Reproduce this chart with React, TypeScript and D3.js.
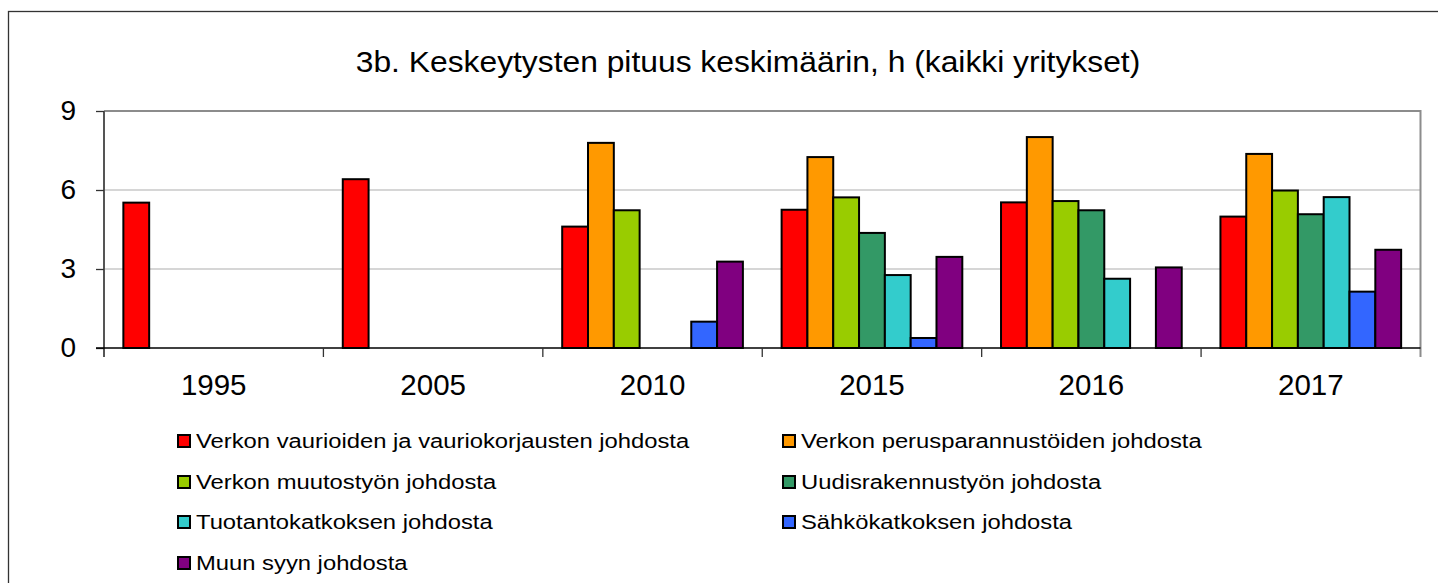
import React, { useEffect, useRef } from "react";
import * as d3 from "d3";

const years = ["1995", "2005", "2010", "2015", "2016", "2017"];
const seriesNames = [
  "Verkon vaurioiden ja vauriokorjausten johdosta",
  "Verkon perusparannustöiden johdosta",
  "Verkon muutostyön johdosta",
  "Uudisrakennustyön johdosta",
  "Tuotantokatkoksen johdosta",
  "Sähkökatkoksen johdosta",
  "Muun syyn johdosta",
];
const seriesColors = ["#FF0000", "#FF9900", "#99CC00", "#339966", "#33CCCC", "#3366FF", "#800080"];

// one array per series, values per year (null = no bar)
const vauriot = [5.52, 6.41, 4.61, 5.25, 5.53, 4.99];
const perusparannus = [null, null, 7.79, 7.25, 8.01, 7.37];
const muutostyo = [null, null, 5.23, 5.72, 5.58, 5.98];
const uudisrakennus = [null, null, null, 4.37, 5.23, 5.08];
const tuotantokatkos = [null, null, null, 2.77, 2.63, 5.73];
const sahkokatkos = [null, null, 1.0, 0.38, null, 2.14];
const muuSyy = [null, null, 3.28, 3.46, 3.06, 3.73];
const seriesValues = [vauriot, perusparannus, muutostyo, uudisrakennus, tuotantokatkos, sahkokatkos, muuSyy];

const yTicks = [0, 3, 6, 9];
const title = "3b. Keskeytysten pituus keskimäärin, h (kaikki yritykset)";

const W = 1438;
const H = 583;
const FONT = "Liberation Sans, Arial, sans-serif";

export default function App() {
  const ref = useRef<SVGSVGElement>(null);

  useEffect(() => {
    const svg = d3.select(ref.current);
    svg.selectAll("*").remove();

    const left = 104;
    const right = 1420.5;
    const top = 111;
    const bottom = 348;

    // outer chart border
    svg
      .append("rect")
      .attr("x", 8.5)
      .attr("y", 11.5)
      .attr("width", W + 20)
      .attr("height", H + 20)
      .attr("fill", "white")
      .attr("stroke", "#333")
      .attr("stroke-width", 1.3);

    // title (text in the original is slightly wide)
    svg
      .append("text")
      .attr("transform", "translate(748,72) scale(1.06,1)")
      .attr("text-anchor", "middle")
      .style("font-family", FONT)
      .style("font-size", "30px")
      .attr("fill", "#000")
      .text(title);

    const x = d3.scaleBand().domain(years).range([left, right]).paddingInner(0).paddingOuter(0);
    const xInner = d3
      .scaleBand()
      .domain(seriesNames)
      .range([0, x.bandwidth()])
      .paddingInner(0)
      .paddingOuter(0.75);
    const y = d3.scaleLinear().domain([0, 9]).range([bottom, top]);

    // gridlines
    svg
      .append("g")
      .selectAll("line")
      .data(yTicks.filter((t) => t > 0 && t < 9))
      .join("line")
      .attr("x1", left)
      .attr("x2", right)
      .attr("y1", (d) => y(d))
      .attr("y2", (d) => y(d))
      .attr("stroke", "#c8c8c8")
      .attr("stroke-width", 1.3);

    // plot area top and right border
    svg
      .append("path")
      .attr("d", `M${left},${top}H${right}V${bottom + 9}`)
      .attr("fill", "none")
      .attr("stroke", "#8c8c8c")
      .attr("stroke-width", 2);

    // bars
    seriesNames.forEach((name, si) => {
      svg
        .append("g")
        .selectAll("rect")
        .data(years.map((yr, i) => ({ yr, v: seriesValues[si][i] })).filter((d) => d.v != null))
        .join("rect")
        .attr("x", (d) => (x(d.yr) as number) + (xInner(name) as number))
        .attr("y", (d) => y(d.v as number))
        .attr("width", xInner.bandwidth())
        .attr("height", (d) => bottom - y(d.v as number))
        .attr("fill", seriesColors[si])
        .attr("stroke", "#000")
        .attr("stroke-width", 2);
    });

    // y axis
    const yAxis = svg
      .append("g")
      .attr("transform", `translate(${left},0)`)
      .call(d3.axisLeft(y).tickValues(yTicks).tickSize(8).tickPadding(20).tickFormat(d3.format("d")));
    yAxis.select(".domain").attr("d", `M0,${top}V${bottom + 9}`).attr("stroke", "#555").attr("stroke-width", 2);
    yAxis.selectAll(".tick line").attr("stroke", "#333").attr("stroke-width", 1.3);
    yAxis
      .selectAll("text")
      .style("font-family", FONT)
      .style("font-size", "28px")
      .attr("fill", "#000");

    // x axis
    const xAxis = svg
      .append("g")
      .attr("transform", `translate(0,${bottom})`)
      .call(d3.axisBottom(x).tickSize(0).tickPadding(26));
    xAxis.select(".domain").attr("d", `M${left - 8},0H${right}`).attr("stroke", "#000").attr("stroke-width", 1.5);
    xAxis
      .selectAll("text")
      .style("font-family", FONT)
      .style("font-size", "29.5px")
      .attr("fill", "#000");
    // category separators
    svg
      .append("g")
      .selectAll("line")
      .data(years.slice(1))
      .join("line")
      .attr("x1", (d) => x(d) as number)
      .attr("x2", (d) => x(d) as number)
      .attr("y1", bottom)
      .attr("y2", bottom + 9)
      .attr("stroke", "#333")
      .attr("stroke-width", 1.3);

    // legend
    const colX = [177, 782];
    const rowY = [441, 482, 522, 563];
    const legend = svg
      .append("g")
      .selectAll("g")
      .data(seriesNames)
      .join("g")
      .attr("transform", (_, i) => `translate(${colX[i % 2]},${rowY[Math.floor(i / 2)]})`);
    legend
      .append("rect")
      .attr("x", 1)
      .attr("y", -6)
      .attr("width", 12)
      .attr("height", 12)
      .attr("fill", (_, i) => seriesColors[i])
      .attr("stroke", "#000")
      .attr("stroke-width", 2);
    legend
      .append("text")
      .attr("transform", "translate(19,7) scale(1.19,1)")
      .style("font-family", FONT)
      .style("font-size", "20px")
      .attr("fill", "#000")
      .text((d) => d);
  }, []);

  return (
    <svg
      ref={ref}
      width={W}
      height={H}
      style={{ position: "absolute", left: 0, top: 0, display: "block", background: "white" }}
    />
  );
}
